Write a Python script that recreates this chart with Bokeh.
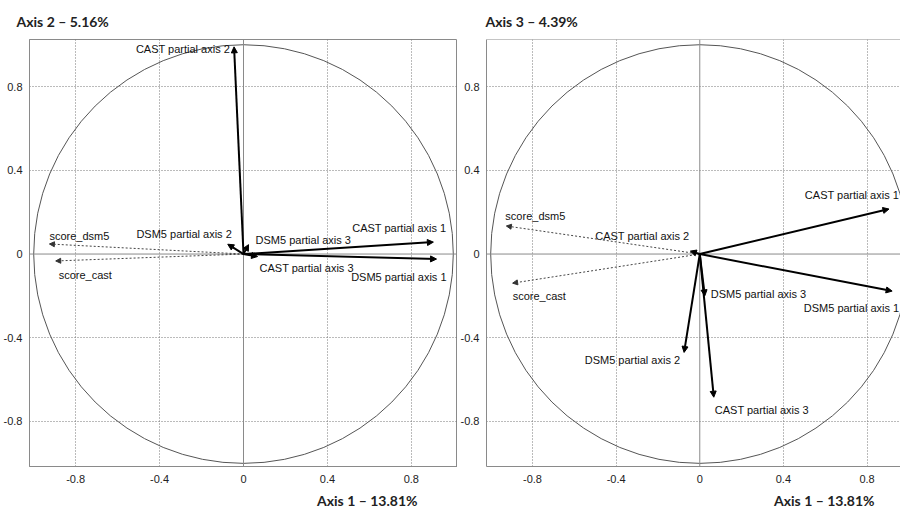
import numpy as np
from bokeh.plotting import figure
from bokeh.models import ColumnDataSource, Arrow, NormalHead, Span, FixedTicker, Title
from bokeh.layouts import row
from bokeh.embed import file_html
from bokeh.resources import INLINE
from bokeh.core.properties import value

# ---------------- data ----------------
active_names = ["CAST partial axis 1", "CAST partial axis 2", "CAST partial axis 3",
                "DSM5 partial axis 1", "DSM5 partial axis 2", "DSM5 partial axis 3"]
active_axis1 = [0.905, -0.045, 0.067, 0.92, -0.075, 0.024]
active_axis2 = [0.057, 0.99, -0.012, -0.024, 0.047, 0.045]
active_axis3 = [0.215, 0.014, -0.684, -0.177, -0.47, -0.2]

sup_names = ["score_dsm5", "score_cast"]
sup_axis1 = [-0.925, -0.895]
sup_axis2 = [0.048, -0.033]
sup_axis3 = [0.134, -0.139]

circle_radius = 1.0
tick_values = [-0.8, -0.4, 0, 0.4, 0.8]
tick_labels = ["-0.8", "-0.4", "0", "0.4", "0.8"]
grid_values = [-0.8, -0.4, 0.4, 0.8]

x_title = "Axis 1 \u2013 13.81%"
y_titles = ["Axis 2 \u2013 5.16%", "Axis 3 \u2013 4.39%"]

# label placement styles: name -> (align, dx px, dy px)
left_offsets = {
    "CAST partial axis 1": ("right", 13, -14),
    "CAST partial axis 2": ("right", -4, 2),
    "CAST partial axis 3": ("left", 2, 11),
    "DSM5 partial axis 1": ("right", 10, 18),
    "DSM5 partial axis 2": ("right", 4, -10),
    "DSM5 partial axis 3": ("left", 7, -5),
    "score_dsm5": ("left", 0, -8),
    "score_cast": ("left", 3, 14),
}
right_offsets = {
    "CAST partial axis 1": ("right", 10, -14),
    "CAST partial axis 2": ("right", -1, -15),
    "CAST partial axis 3": ("left", 1, 13),
    "DSM5 partial axis 1": ("right", 7, 17),
    "DSM5 partial axis 2": ("right", -4, 8),
    "DSM5 partial axis 3": ("left", 6, -2),
    "score_dsm5": ("left", -1, -10),
    "score_cast": ("left", 0, 13),
}

TICK_FONT = "Liberation Sans"
LABEL_FONT = "Liberation Sans"
TITLE_FONT = "Lato"


def make_panel(ytitle, act_y, sup_y, offsets, frame_w, x_end, mb_left, mb_right,
               ytitle_offset, xtitle_offset, outline):
    p = figure(frame_width=frame_w, frame_height=427,
               x_range=(-1.02, x_end), y_range=(-1.015, 1.025),
               output_backend="svg", toolbar_location=None,
               min_border_left=mb_left, min_border_right=mb_right,
               min_border_top=0, min_border_bottom=0,
               background_fill_color="white", border_fill_color="white")
    p.outline_line_color = "#8a8a8a" if outline else None
    p.outline_line_width = 1

    for ax in (p.xaxis[0], p.yaxis[0]):
        ax.ticker = FixedTicker(ticks=tick_values)
        ax.major_label_overrides = {v: s for v, s in zip(tick_values, tick_labels)}
        ax.axis_line_color = "#8a8a8a"
        ax.major_tick_line_color = None
        ax.minor_tick_line_color = None
        ax.major_label_text_font = TICK_FONT
        ax.major_label_text_font_size = "11px"
        ax.major_label_text_color = "#222222"
    p.xaxis.major_label_standoff = 2
    p.yaxis.major_label_standoff = 1

    for g in (p.xgrid[0], p.ygrid[0]):
        g.ticker = FixedTicker(ticks=grid_values)
        g.grid_line_color = "#777777"
        g.grid_line_dash = "1 2"
        g.grid_line_width = 1

    p.add_layout(Span(location=0, dimension="height", line_color="#8a8a8a", line_width=1))
    p.add_layout(Span(location=0, dimension="width", line_color="#8a8a8a", line_width=1))
    if not outline:
        p.add_layout(Span(location=p.y_range.end, dimension="width", line_color="#8a8a8a", line_width=1))

    p.ellipse(x=[0], y=[0], width=[2 * circle_radius], height=[2 * circle_radius],
              fill_color=None, line_color="#555555", line_width=1)

    # supplementary (dotted) arrows
    sup_src = ColumnDataSource(dict(x0=[0] * len(sup_names), y0=[0] * len(sup_names),
                                    x1=sup_axis1, y1=sup_y))
    p.add_layout(Arrow(end=NormalHead(size=5, line_color="#333333", fill_color="#333333", line_width=1),
                       x_start="x0", y_start="y0", x_end="x1", y_end="y1", source=sup_src,
                       line_color="#444444", line_width=1, line_dash="2 2"))

    # active (solid) arrows
    act_src = ColumnDataSource(dict(x0=[0] * len(active_names), y0=[0] * len(active_names),
                                    x1=active_axis1, y1=act_y))
    p.add_layout(Arrow(end=NormalHead(size=6, line_color="black", fill_color="black", line_width=1),
                       x_start="x0", y_start="y0", x_end="x1", y_end="y1", source=act_src,
                       line_color="black", line_width=2))

    names = active_names + sup_names
    xs = active_axis1 + sup_axis1
    ys = list(act_y) + list(sup_y)
    for align in ("left", "right"):
        d = dict(x=[], y=[], t=[], dx=[], dy=[])
        for n, x, y in zip(names, xs, ys):
            a, dx, dy = offsets[n]
            if a == align:
                d["x"].append(x); d["y"].append(y); d["t"].append(n)
                d["dx"].append(dx); d["dy"].append(dy)
        p.text(x="x", y="y", text="t", x_offset="dx", y_offset="dy",
               source=ColumnDataSource(d), text_align=align, text_baseline="middle",
               text_font=value(LABEL_FONT), text_font_size="11px", text_color="#111111")

    t_above = Title(text=ytitle, align="left", offset=ytitle_offset,
                    text_font=TITLE_FONT, text_font_size="14px", text_font_style="bold",
                    text_color="#222222", standoff=20)
    p.add_layout(t_above, "above")
    t_below = Title(text=x_title, align="right", offset=xtitle_offset,
                    text_font=TITLE_FONT, text_font_size="14px", text_font_style="bold",
                    text_color="#222222", standoff=8)
    p.add_layout(t_below, "below")
    return p


p1 = make_panel(y_titles[0], active_axis2, sup_axis2, left_offsets,
                428, 1.02, 0, 0, -13, 40, True)
p2 = make_panel(y_titles[1], active_axis3, sup_axis3, right_offsets,
                414, 0.96, 0, 0, -1, 26, False)

layout = row(p1, p2, spacing=0)
open("out.html", "w").write(file_html(layout, INLINE))
